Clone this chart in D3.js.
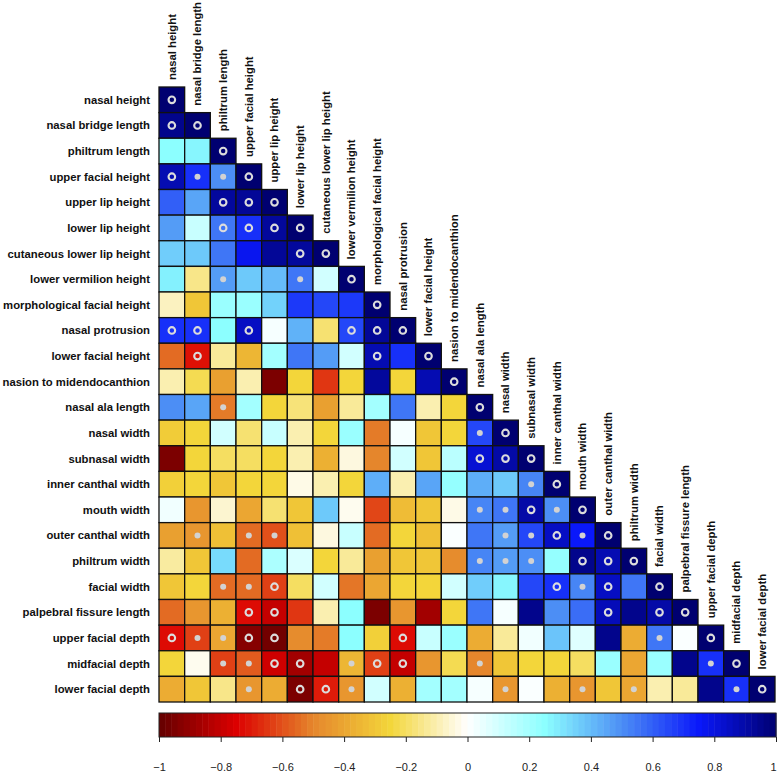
<!DOCTYPE html>
<html><head><meta charset="utf-8">
<script src="https://cdn.jsdelivr.net/npm/d3@7"></script>
<style>
body{margin:0;background:#fff}
svg{display:block}
text{font-family:"Liberation Sans",Arial,Helvetica,sans-serif}
</style>
</head><body>
<svg id="chart" width="777" height="772"></svg>
<script>
// ---------- data ----------
const variables = [
  "nasal height","nasal bridge length","philtrum length","upper facial height",
  "upper lip height","lower lip height","cutaneous lower lip height","lower vermilion height",
  "morphological facial height","nasal protrusion","lower facial height","nasion to midendocanthion",
  "nasal ala length","nasal width","subnasal width","inner canthal width",
  "mouth width","outer canthal width","philtrum width","facial width",
  "palpebral fissure length","upper facial depth","midfacial depth","lower facial depth"
];

// lower-triangle correlations (row i has i+1 values)
const corrRows = [
  [1],
  [0.95,1],
  [0.25,0.27,1],
  [0.88,0.7,0.5,1],
  [0.6,0.45,0.92,0.93,1],
  [0.47,0.12,0.55,0.7,0.92,1],
  [0.36,0.37,0.55,0.77,0.93,0.92,1],
  [0.28,-0.15,0.47,0.37,0.4,0.55,0.1,1],
  [-0.08,-0.3,0.22,0.22,0.35,0.68,0.65,0.68,1],
  [0.7,0.7,0.25,0.85,0.02,0.42,-0.18,0.65,0.93,1],
  [-0.55,-0.72,-0.13,-0.35,0.2,0.55,0.47,0.1,0.88,0.7,1],
  [-0.1,-0.22,-0.42,-0.1,-0.95,-0.25,-0.65,-0.25,0.92,-0.25,0.88,1],
  [0.5,0.45,-0.52,0.2,-0.25,-0.17,-0.42,-0.13,0.2,0.55,-0.1,-0.25,1],
  [-0.28,-0.25,0.1,-0.18,0.12,-0.1,-0.25,0.22,-0.52,0.02,-0.3,-0.25,0.65,1],
  [-0.95,-0.25,-0.2,-0.2,-0.25,-0.1,-0.37,-0.04,-0.5,0.1,-0.3,0.15,0.82,0.9,1],
  [-0.27,-0.25,-0.3,-0.25,-0.25,-0.03,-0.1,-0.25,0.43,-0.1,0.45,0.23,0.43,0.37,0.52,1],
  [0.03,-0.45,-0.06,-0.4,-0.18,-0.3,0.37,-0.02,-0.62,-0.33,-0.3,-0.03,0.52,0.55,0.9,0.5,1],
  [-0.42,-0.45,-0.32,-0.55,-0.6,-0.32,-0.04,0.12,-0.55,-0.25,-0.32,0.01,0.55,0.47,0.65,0.85,0.75,1],
  [-0.12,-0.3,0.33,-0.55,0.18,0.08,-0.25,-0.13,-0.42,-0.3,-0.3,-0.48,0.52,0.47,0.5,0.23,0.95,0.88,1],
  [-0.3,-0.25,-0.55,-0.55,-0.63,-0.2,0.1,-0.53,-0.4,-0.25,-0.25,0.1,0.36,0.27,0.65,0.7,0.52,0.85,0.55,1],
  [-0.55,-0.45,-0.37,-0.73,-0.8,-0.65,-0.1,0.25,-0.95,-0.45,-0.87,-0.25,0.55,0.02,0.95,0.5,0.57,0.87,0.95,0.9,1],
  [-0.73,-0.63,-0.4,-0.93,-0.97,-0.48,-0.52,0.25,-0.27,-0.73,0.12,0.22,-0.38,-0.13,0.03,0.38,0.07,0.95,-0.38,0.55,0.01,1],
  [-0.25,-0.02,-0.63,-0.58,-0.78,-0.87,-0.8,-0.35,-0.63,-0.8,-0.45,-0.22,-0.5,-0.3,-0.25,-0.25,-0.2,0.22,-0.4,0.22,0.95,0.7,1],
  [-0.38,-0.3,-0.15,-0.45,-0.38,-0.95,-0.7,-0.45,0.1,-0.37,0.2,0.2,0.02,-0.45,0.01,-0.37,-0.45,-0.3,-0.4,-0.1,-0.13,0.95,0.7,1]
];

// significance markers: 'o' = ring, '.' = dot, '-' = none
const sigRows = [
  "o",
  "oo",
  "--o",
  "o..o",
  "--ooo",
  "--oooo",
  "-----oo",
  "--.--.-o",
  "--------o",
  "oo-o---ooo",
  "-o------o-o",
  "-----------o",
  "--.---------o",
  "------------.o",
  "------------ooo",
  "--------------.o",
  "------------..o.o",
  "-.-..--------..o.o",
  "------------...-ooo",
  "--..o----------o.o-o",
  "---oo------------o-oo",
  "o..oo----o---------.-o",
  "--..oo-.oo--.--------.o",
  "---.-oo.-----.--.-.---.o"
];

const colorStops  = [-1, -0.75, -0.5, -0.25, 0, 0.25, 0.5, 0.75, 1];
const colorValues = ["#640000","#dc0000","#e5862c","#f3d63a","#ffffff","#8cffff","#4c8ef5","#0a18fa","#000070"];
const tickValues  = [-1,-0.8,-0.6,-0.4,-0.2,0,0.2,0.4,0.6,0.8,1];
const tickLabels  = ["\u22121","\u22120.8","\u22120.6","\u22120.4","\u22120.2","0","0.2","0.4","0.6","0.8","1"];

// ---------- drawing ----------
const svg = d3.select("#chart");
const gridLeft = 159, gridRight = 775, gridTop = 87, gridBottom = 702;

const x = d3.scaleBand().domain(variables).range([gridLeft, gridRight]).paddingInner(0);
const y = d3.scaleBand().domain(variables).range([gridTop, gridBottom]).paddingInner(0);
const color = d3.scaleLinear().domain(colorStops).range(colorValues).interpolate(d3.interpolateRgb).clamp(true);

const cells = [];
corrRows.forEach((row, i) => row.forEach((v, j) => {
  cells.push({row: variables[i], col: variables[j], v, sig: sigRows[i][j]});
}));

const g = svg.append("g");
g.selectAll("rect.cell").data(cells).join("rect")
  .attr("class","cell")
  .attr("x", d => x(d.col)).attr("y", d => y(d.row))
  .attr("width", x.bandwidth()).attr("height", y.bandwidth())
  .attr("fill", d => color(d.v))
  .attr("stroke", "#111").attr("stroke-width", 1.3);

const bw = x.bandwidth();
g.selectAll("circle.ring").data(cells.filter(d => d.sig === "o")).join("circle")
  .attr("class","ring")
  .attr("cx", d => x(d.col) + bw/2).attr("cy", d => y(d.row) + bw/2)
  .attr("r", 3.3).attr("fill","none").attr("stroke","#dcdcdc").attr("stroke-width", 2.1);

g.selectAll("circle.dot").data(cells.filter(d => d.sig === ".")).join("circle")
  .attr("class","dot")
  .attr("cx", d => x(d.col) + bw/2).attr("cy", d => y(d.row) + bw/2)
  .attr("r", 3).attr("fill","#d2d2d2");

// row labels
svg.append("g").selectAll("text").data(variables).join("text")
  .attr("x", gridLeft - 9).attr("y", d => y(d) + bw/2).attr("dy","0.35em")
  .attr("text-anchor","end").attr("font-size", 11.3).attr("font-weight","bold").attr("fill","#111")
  .text(d => d);

// column labels (on the diagonal)
svg.append("g").selectAll("text").data(variables).join("text")
  .attr("transform", d => `translate(${x(d) + bw/2},${y(d) - 7}) rotate(-90)`)
  .attr("dy","0.35em")
  .attr("text-anchor","start").attr("font-size", 11.3).attr("font-weight","bold").attr("fill","#111")
  .text(d => d);

// colour bar
const cbTop = 713, cbH = 24;
const cbx = d3.scaleLinear().domain([-1, 1]).range([159, 776]);
const nSteps = 100;
const steps = d3.range(nSteps).map(k => -1 + 2 * k / nSteps);
svg.append("g").selectAll("rect").data(steps).join("rect")
  .attr("x", d => cbx(d)).attr("y", cbTop)
  .attr("width", cbx(-1 + 2/nSteps) - cbx(-1) + 0.5).attr("height", cbH)
  .attr("fill", d => color(d + 1/nSteps));
svg.append("rect").attr("x", cbx(-1)).attr("y", cbTop).attr("width", cbx(1) - cbx(-1)).attr("height", cbH)
  .attr("fill","none").attr("stroke","#222").attr("stroke-width",1);

const axis = d3.axisBottom(cbx).tickValues(tickValues).tickSize(5).tickPadding(21)
  .tickFormat((d, i) => tickLabels[i]);
const ag = svg.append("g").attr("transform", `translate(0,${cbTop + cbH})`).call(axis);
ag.select(".domain").remove();
ag.selectAll("line").attr("stroke","#222");
ag.selectAll("text").attr("font-size", 11).attr("fill","#222")
  .attr("font-family", '"Liberation Sans",Arial,sans-serif')
  .attr("dx", d => d === 1 ? -3 : 0);
</script>
</body></html>
